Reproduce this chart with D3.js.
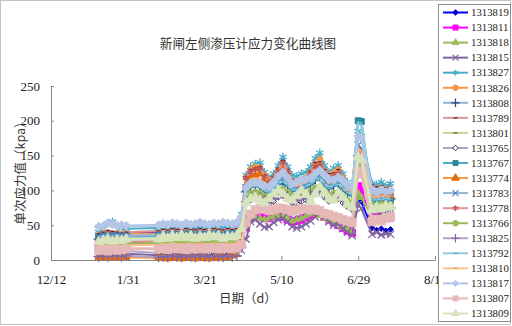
<!DOCTYPE html>
<html>
<head>
<meta charset="utf-8">
<script src="https://cdn.jsdelivr.net/npm/d3@7"></script>
<style>
  body { margin: 0; background: #fff; }
  svg { display: block; }
  .axis path, .axis line { stroke: #868686; }
  .axis text { fill: #222; }
</style>
</head>
<body>
<svg id="chart"></svg>
<script>
// sample dates (readings), days spaced roughly every 3 days
const dates = [
  '2012-01-12','2012-01-15','2012-01-18','2012-01-21','2012-01-24','2012-01-27','2012-01-30',
  '2012-02-20','2012-02-23','2012-02-26','2012-02-29','2012-03-03','2012-03-06','2012-03-09','2012-03-12',
  '2012-03-15','2012-03-18','2012-03-21','2012-03-24','2012-03-27','2012-03-30','2012-04-02','2012-04-05',
  '2012-04-08','2012-04-11',
  '2012-04-14','2012-04-17','2012-04-20',
  '2012-04-23','2012-04-26','2012-04-29','2012-05-02','2012-05-05','2012-05-08','2012-05-11','2012-05-14',
  '2012-05-17','2012-05-20','2012-05-23','2012-05-26','2012-05-29','2012-06-01','2012-06-04','2012-06-07',
  '2012-06-10','2012-06-13','2012-06-16','2012-06-19','2012-06-22','2012-06-25',
  '2012-06-29','2012-07-01',
  '2012-07-08','2012-07-11','2012-07-14','2012-07-17','2012-07-20'
];

const xTickDates = ['2011-12-12','2012-01-31','2012-03-21','2012-05-10','2012-06-29','2012-08-18'];
const yTicks = [0, 50, 100, 150, 200, 250];

const seriesNames = ['1313819','1313811','1313818','1313815','1313827','1313826','1313808','1313789',
  '1313801','1313765','1313767','1313774','1313783','1313778','1313766','1313825','1313792','1313810',
  '1313817','1313807','1313809'];

const v1313819 = [33,35,34,36,35,37,38, 40,38,42,39,43,40,44,41,45,42,44,40,43,41,44,42,40,43, 46,60,64,
  66,64,62,63,65,67,66,63,58,60,62,64,66,70,66,62,57,54,50,46,42,40, 90,84, 46,43,45,42,44];
const v1313811 = [22,23,22,24,23,24,25, 24,25,24,26,25,24,26,25,24,26,25,24,26,25,24,26,25,26, 28,46,60,
  64,62,60,60,63,64,62,58,55,56,58,61,64,67,66,62,58,54,50,46,42,39, 106,100, 60,62,58,60,61];
const v1313818 = [20,21,20,22,21,22,23, 24,25,26,24,25,27,25,26,24,25,27,26,25,24,26,25,27,26, 30,48,60,
  62,60,58,60,62,64,63,60,56,58,60,63,66,68,64,60,57,54,50,46,44,41, 96,90, 62,60,63,61,62];
const v1313815 = [9,8,10,9,8,10,9, 7,6,8,7,6,8,7,6,8,7,6,8,7,6,8,7,9,10, 14,30,55,
  58,52,47,48,54,58,60,55,48,46,48,52,56,62,70,62,55,50,52,45,40,35, 80,74, 37,40,36,38,37];
const v1313827 = [40,44,53,55,50,46,45, 46,44,47,45,48,46,47,45,48,46,47,45,48,46,47,46,48,50, 66,122,134,
  138,140,126,118,124,136,148,134,122,120,124,126,134,146,154,136,126,132,136,124,112,108, 185,178, 110,108,112,106,110];
const v1313826 = [36,38,40,38,39,37,38, 38,40,37,39,41,38,40,37,39,41,38,40,39,38,40,41,39,40, 62,118,130,
  134,132,122,115,118,128,138,126,114,112,116,118,126,138,145,128,120,126,130,118,108,104, 160,155, 95,92,96,94,95];
const v1313808 = [30,31,30,32,31,32,31, 33,34,33,35,34,33,35,34,33,35,34,33,35,34,33,35,34,35, 48,98,106,
  108,106,100,98,104,110,114,108,102,101,104,106,110,116,118,110,104,108,110,104,98,95, 150,145, 88,86,89,87,88];
const v1313789 = [38,40,42,41,40,39,40, 42,44,43,45,44,43,45,44,43,45,44,42,45,44,43,45,44,45, 64,120,130,
  132,134,122,114,120,132,143,130,116,114,118,120,128,140,141,130,124,125,130,118,108,104, 155,150, 108,105,107,104,106];
const v1313801 = [28,29,28,30,29,30,29, 30,31,30,32,31,30,32,31,30,32,31,30,32,31,30,32,31,32, 42,86,92,
  94,92,88,86,90,96,98,94,88,87,90,92,95,100,102,96,90,92,94,88,82,78, 140,134, 62,64,62,63,62];
const v1313765 = [12,13,12,14,13,12,13, 10,11,10,12,11,10,12,11,10,12,11,10,12,11,10,12,11,12, 20,80,86,
  88,86,82,80,84,90,92,88,82,81,84,86,90,95,96,90,84,86,88,82,76,72, 135,130, 70,72,70,71,70];
const v1313767 = [32,34,33,35,34,33,34, 35,36,35,37,36,35,37,36,35,37,36,35,37,36,35,37,38,38, 55,102,108,
  110,108,102,100,106,112,116,110,104,102,106,108,112,118,120,112,106,110,112,106,100,96, 200,199, 86,84,87,85,86];
const v1313774 = [4,3,5,4,3,5,4, 3,4,2,3,4,2,3,4,2,3,4,2,3,4,3,4,6,8, 30,108,118,
  122,124,116,110,114,122,130,120,110,108,112,114,120,130,134,122,114,118,122,112,104,100, 152,148, 92,90,93,91,92];
const v1313783 = [34,35,34,36,35,34,35, 36,37,36,38,37,36,38,37,36,38,37,36,38,37,36,38,37,38, 52,104,110,
  112,110,104,102,108,114,118,112,106,104,108,110,114,120,122,114,108,112,114,108,102,98, 165,160, 90,88,91,89,90];
const v1313778 = [25,26,25,27,26,25,26, 28,29,28,30,29,28,30,29,28,30,29,28,30,29,28,30,29,30, 58,118,126,
  130,132,120,112,118,128,140,126,112,110,114,116,124,134,136,124,116,120,124,114,104,100, 150,146, 100,98,101,99,100];
const v1313766 = [22,23,22,24,23,22,23, 25,26,25,27,26,25,27,26,25,27,26,25,27,26,25,27,26,27, 40,90,96,
  98,96,92,90,94,100,102,98,92,91,94,96,99,104,106,100,94,96,98,92,86,82, 140,136, 80,78,81,79,80];
const v1313825 = [5,6,5,7,6,5,6, 4,5,4,6,5,4,6,5,4,6,5,4,6,5,4,6,5,6, 18,84,90,
  92,90,86,84,88,94,96,92,86,85,88,90,94,98,100,94,88,90,92,86,80,76, 145,140, 75,73,76,74,75];
const v1313792 = [28,29,28,30,29,28,29, 32,33,32,34,33,32,34,33,32,34,33,32,34,33,32,34,35,36, 50,100,106,
  108,106,100,98,104,110,114,108,102,100,104,106,110,116,118,110,104,108,110,104,98,94, 198,196, 88,86,89,87,88];
const v1313810 = [20,21,20,22,21,20,21, 22,23,22,24,23,22,24,23,22,24,23,22,24,23,22,24,23,24, 45,108,116,
  118,116,110,106,110,118,124,116,108,106,110,112,118,126,128,118,110,114,116,110,102,98, 160,156, 92,90,93,91,92];
const v1313817 = [48,49,53,51,49,50,49, 50,52,51,53,52,50,53,51,52,54,52,51,53,52,54,53,52,54, 62,104,110,
  112,110,106,105,112,120,126,118,110,112,115,116,118,124,129,122,116,115,119,114,108,104, 178,176, 100,97,101,98,100];
const v1313807 = [14,15,13,16,14,15,16, 16,17,15,18,16,17,15,18,16,17,16,18,17,16,18,17,16,18, 22,54,66,
  72,74,73,71,72,75,74,72,70,72,74,74,72,73,71,67,65,63,61,58,56,54, 128,124, 55,58,56,60,62];
const v1313809 = [26,28,30,27,29,28,30, 30,34,31,35,32,36,32,35,31,34,32,36,33,35,31,34,33,35, 45,82,88,
  90,86,82,88,95,100,95,88,86,92,100,94,84,95,105,96,88,86,96,90,80,76, 148,144, 72,76,74,78,76];

const seriesValues = [v1313819, v1313811, v1313818, v1313815, v1313827, v1313826, v1313808, v1313789,
  v1313801, v1313765, v1313767, v1313774, v1313783, v1313778, v1313766, v1313825, v1313792, v1313810,
  v1313817, v1313807, v1313809];

// line / marker look for each series, same order as seriesNames
const seriesStyles = [
  {line: '#0000FF', shape: 'diamond', w: 4.5, fill: '#0000B0', stroke: '#0000FF', lw: 2},
  {line: '#FF00FF', shape: 'square', w: 7, fill: '#FF00FF', stroke: '#FF00FF', lw: 2},
  {line: '#9BBB59', shape: 'triangle', w: 4.5, fill: '#9BBB59', stroke: '#9BBB59', lw: 2},
  {line: '#8064A2', shape: 'x', w: 6, fill: 'none', stroke: '#8064A2', lw: 2},
  {line: '#4BACC6', shape: 'star', w: 7, fill: 'none', stroke: '#4BACC6', lw: 2},
  {line: '#F79646', shape: 'circle', w: 5, fill: '#F79646', stroke: '#F79646', lw: 2},
  {line: '#95B3D7', shape: 'plus', w: 6, fill: 'none', stroke: '#1F497D', lw: 2},
  {line: '#D99694', shape: 'dash', w: 4, fill: 'none', stroke: '#632523', lw: 2},
  {line: '#C3D69B', shape: 'dash', w: 4, fill: 'none', stroke: '#4F6228', lw: 2},
  {line: '#B3A2C7', shape: 'diamond', w: 4.5, fill: '#fff', stroke: '#403152', lw: 2},
  {line: '#4BACC6', shape: 'square', w: 6, fill: '#31859C', stroke: '#31859C', lw: 2.5},
  {line: '#F79646', shape: 'triangle', w: 5, fill: '#E46C0A', stroke: '#E46C0A', lw: 2},
  {line: '#95B3D7', shape: 'x', w: 6, fill: 'none', stroke: '#4F81BD', lw: 2},
  {line: '#D99694', shape: 'star', w: 6, fill: 'none', stroke: '#C0504D', lw: 2},
  {line: '#9BBB59', shape: 'circle', w: 5, fill: '#9BBB59', stroke: '#9BBB59', lw: 2},
  {line: '#B3A2C7', shape: 'plus', w: 6, fill: 'none', stroke: '#8064A2', lw: 2},
  {line: '#93CDDD', shape: 'dash', w: 4, fill: 'none', stroke: '#4BACC6', lw: 2.5},
  {line: '#FAC090', shape: 'dash', w: 4, fill: 'none', stroke: '#F79646', lw: 2},
  {line: '#B4C6E7', shape: 'diamond', w: 7, fill: '#B4C6E7', stroke: '#B4C6E7', lw: 3},
  {line: '#E6B9B8', shape: 'square', w: 8, fill: '#E6B9B8', stroke: '#E6B9B8', lw: 3},
  {line: '#D7E4BD', shape: 'triangle', w: 6.5, fill: '#D7E4BD', stroke: '#D7E4BD', lw: 3}
];

const numberFont = "'Liberation Serif', serif";
const cjkFont = "'Noto Sans CJK SC', sans-serif";

// short horizontal bar marker (Excel "-" marker)
const symbolDash = {
  draw(ctx, size) {
    const h = Math.sqrt(size) / 2;
    ctx.moveTo(-h, 0);
    ctx.lineTo(h, 0);
  }
};
const shapeTypes = {
  diamond: d3.symbolDiamond2, square: d3.symbolSquare, triangle: d3.symbolTriangle,
  circle: d3.symbolCircle, x: d3.symbolX, plus: d3.symbolPlus, star: d3.symbolAsterisk, dash: symbolDash
};

class LineChart {

  constructor(_config) {
    this.config = {
      parentElement: _config.parentElement,
      containerWidth: _config.containerWidth || 512,
      containerHeight: _config.containerHeight || 326,
      margin: _config.margin || {top: 86, right: 77, bottom: 66, left: 51}
    };
    this.initVis();
  }

  initVis() {
    let vis = this;
    const parseDate = d3.timeParse('%Y-%m-%d');

    vis.width = vis.config.containerWidth - vis.config.margin.left - vis.config.margin.right;
    vis.height = vis.config.containerHeight - vis.config.margin.top - vis.config.margin.bottom;

    vis.tickDates = xTickDates.map(parseDate);
    vis.series = seriesNames.map((name, i) => ({
      name: name,
      style: seriesStyles[i],
      values: dates.map((d, j) => ({date: parseDate(d), value: seriesValues[i][j]}))
    }));

    vis.xScale = d3.scaleTime()
      .domain(d3.extent(vis.tickDates))
      .range([0, vis.width]);

    vis.yScale = d3.scaleLinear()
      .domain([0, 250])
      .range([vis.height, 0]);

    vis.xAxis = d3.axisBottom(vis.xScale)
      .tickValues(vis.tickDates)
      .tickFormat(d3.timeFormat('%-m/%-d'))
      .tickSizeInner(-4)
      .tickSizeOuter(0)
      .tickPadding(15);

    vis.yAxis = d3.axisLeft(vis.yScale)
      .tickValues(yTicks)
      .tickSizeInner(-3)
      .tickSizeOuter(0)
      .tickPadding(11);

    vis.svg = d3.select(vis.config.parentElement)
      .attr('width', vis.config.containerWidth)
      .attr('height', vis.config.containerHeight);

    // chart area border
    vis.svg.append('rect')
      .attr('x', 0.5).attr('y', 0.5)
      .attr('width', 510).attr('height', 324)
      .attr('fill', '#fff')
      .attr('stroke', '#c4c4c4');

    vis.chart = vis.svg.append('g')
      .attr('transform', `translate(${vis.config.margin.left},${vis.config.margin.top})`);

    vis.xAxisG = vis.chart.append('g')
      .attr('class', 'axis x-axis')
      .attr('transform', `translate(0,${vis.height})`);

    vis.yAxisG = vis.chart.append('g')
      .attr('class', 'axis y-axis');

    vis.svg.append('text')
      .attr('x', 248).attr('y', 44)
      .attr('dy', '0.35em')
      .attr('text-anchor', 'middle')
      .style('font-family', cjkFont)
      .style('font-size', '12.6px')
      .style('fill', '#333')
      .text('新闸左侧渗压计应力变化曲线图');

    vis.svg.append('text')
      .attr('x', 248).attr('y', 299)
      .attr('dy', '0.35em')
      .attr('text-anchor', 'middle')
      .style('font-family', cjkFont)
      .style('font-size', '12.5px')
      .style('fill', '#333')
      .text('日期（d）');

    vis.svg.append('text')
      .attr('transform', 'translate(21,170) rotate(-90)')
      .attr('dy', '0.35em')
      .attr('text-anchor', 'middle')
      .style('font-family', cjkFont)
      .style('font-size', '12.5px')
      .style('fill', '#333')
      .text('单次应力值（kpa）');

    vis.renderVis();
  }

  markerPath(style, w) {
    return d3.symbol().type(shapeTypes[style.shape]).size(w * w)();
  }

  renderVis() {
    let vis = this;

    vis.xAxisG.call(vis.xAxis)
      .attr('font-family', numberFont).attr('font-size', 13);
    vis.yAxisG.call(vis.yAxis)
      .attr('font-family', numberFont).attr('font-size', 13);

    const line = d3.line()
      .x(d => vis.xScale(d.date))
      .y(d => vis.yScale(d.value));

    const groups = vis.chart.selectAll('.series')
      .data(vis.series)
      .join('g')
      .attr('class', 'series');

    groups.append('path')
      .attr('fill', 'none')
      .attr('stroke', d => d.style.line)
      .attr('stroke-width', d => d.style.lw)
      .attr('stroke-linejoin', 'round')
      .attr('d', d => line(d.values));

    groups.each(function(s) {
      d3.select(this).selectAll('.marker')
        .data(s.values)
        .join('path')
        .attr('class', 'marker')
        .attr('transform', d => `translate(${vis.xScale(d.date)},${vis.yScale(d.value)})`)
        .attr('d', vis.markerPath(s.style, s.style.w))
        .attr('fill', s.style.fill)
        .attr('stroke', s.style.stroke)
        .attr('stroke-width', s.style.fill === 'none' ? 1.3 : 1);
    });

    // legend, drawn last so it covers the tail of the last x label like the original
    const legend = vis.svg.append('g').attr('class', 'legend');
    legend.append('rect')
      .attr('x', 438.5).attr('y', 4.5)
      .attr('width', 72).attr('height', 317)
      .attr('fill', '#fff')
      .attr('stroke', '#8c8c8c');

    const items = legend.selectAll('.item')
      .data(vis.series)
      .join('g')
      .attr('class', 'item')
      .attr('transform', (d, i) => `translate(0,${12.5 + i * 15.05})`);

    items.append('line')
      .attr('x1', 443).attr('x2', 468)
      .attr('stroke', d => d.style.line)
      .attr('stroke-width', 2);

    items.append('path')
      .attr('transform', 'translate(455.5,0)')
      .attr('d', d => vis.markerPath(d.style, Math.min(d.style.w, 5)))
      .attr('fill', d => d.style.fill)
      .attr('stroke', d => d.style.stroke)
      .attr('stroke-width', d => d.style.fill === 'none' ? 1.2 : 1);

    items.append('text')
      .attr('x', 471)
      .attr('dy', '0.35em')
      .style('font-family', numberFont)
      .style('font-size', '10.8px')
      .style('fill', '#222')
      .text(d => d.name);
  }
}

const chart = new LineChart({parentElement: '#chart'});
</script>
</body>
</html>
